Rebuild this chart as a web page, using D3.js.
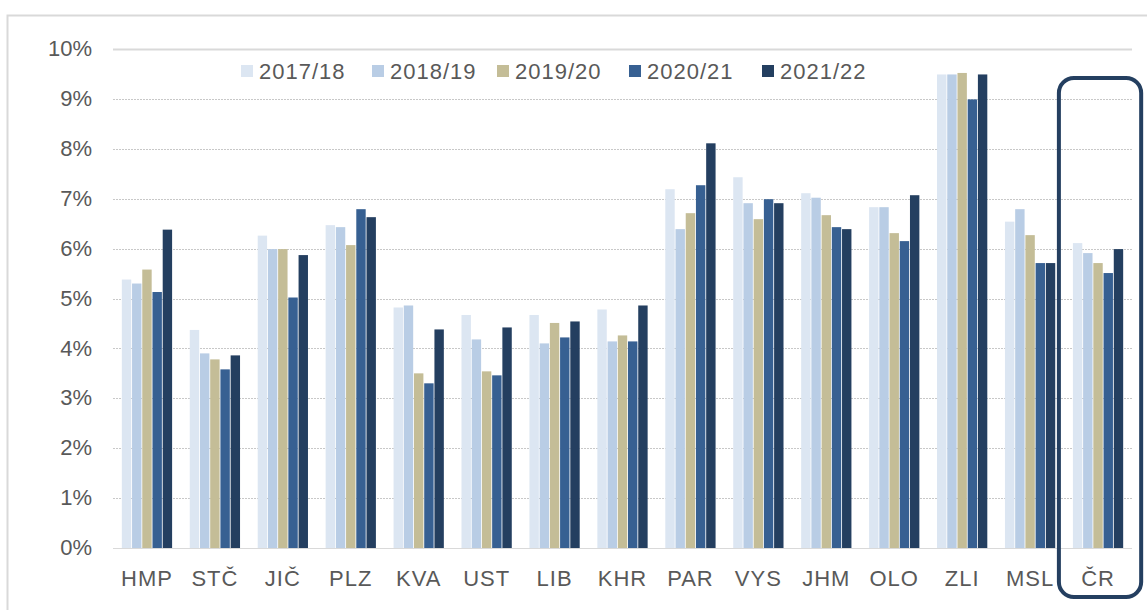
<!DOCTYPE html>
<html>
<head>
<meta charset="utf-8">
<title>Podíl podle krajů</title>
<script src="https://d3js.org/d3.v7.min.js"></script>
<style>
    body { margin: 0; background: #ffffff; font-family: 'Liberation Sans', Arial, sans-serif; }
    svg { display: block; }
</style>
</head>
<body>
<svg id="chart"></svg>
<script>
    const regions = ["HMP", "STČ", "JIČ", "PLZ", "KVA", "UST", "LIB", "KHR", "PAR", "VYS", "JHM", "OLO", "ZLI", "MSL", "ČR"];
    const years = ["2017/18", "2018/19", "2019/20", "2020/21", "2021/22"];
    const colors = ["#dce6f2", "#b9cde5", "#c4bd97", "#376092", "#243f60"];

    // values in %, one array per school year, same order as regions
    const v1718 = [5.38, 4.37, 6.26, 6.47, 4.82, 4.67, 4.67, 4.78, 7.19, 7.43, 7.11, 6.83, 9.49, 6.54, 6.11];
    const v1819 = [5.30, 3.90, 5.99, 6.43, 4.86, 4.18, 4.10, 4.14, 6.39, 6.91, 7.02, 6.83, 9.49, 6.79, 5.91];
    const v1920 = [5.58, 3.78, 5.99, 6.07, 3.50, 3.54, 4.51, 4.26, 6.71, 6.59, 6.67, 6.31, 9.52, 6.27, 5.71];
    const v2021 = [5.13, 3.58, 5.02, 6.79, 3.30, 3.46, 4.22, 4.14, 7.27, 6.99, 6.43, 6.15, 8.99, 5.71, 5.51];
    const v2122 = [6.38, 3.86, 5.87, 6.63, 4.38, 4.42, 4.54, 4.86, 8.11, 6.91, 6.39, 7.07, 9.49, 5.71, 5.99];
    const series = [v1718, v1819, v1920, v2021, v2122];
    const yTicks = [0, 1, 2, 3, 4, 5, 6, 7, 8, 9, 10];
    const highlight = "ČR";

    const width = 1147, height = 610;
    const plot = { left: 113, right: 1132, top: 49, bottom: 548 };

    const svg = d3.select("#chart").attr("width", width).attr("height", height);

    // chart frame (only top and left edges visible)
    svg.append("path")
        .attr("d", `M7.5,${height} V15.5 H${width}`)
        .attr("fill", "none")
        .attr("stroke", "#d9d9d9")
        .attr("stroke-width", 2);

    const x = d3.scaleBand().domain(regions).range([plot.left, plot.right]).paddingInner(0.26).paddingOuter(0.13);
    const xi = d3.scaleBand().domain(years).range([0, x.bandwidth()]).paddingInner(0.08);
    const y = d3.scaleLinear().domain([0, 10]).range([plot.bottom, plot.top]);

    // gridlines
    svg.append("g").selectAll("line")
        .data(yTicks)
        .enter()
        .append("line")
        .attr("x1", plot.left)
        .attr("x2", plot.right)
        .attr("y1", d => Math.round(y(d)) + 0.5)
        .attr("y2", d => Math.round(y(d)) + 0.5)
        .attr("stroke", d => d === 10 || d === 0 ? "#d9d9d9" : "#c8c8c8")
        .attr("stroke-width", d => d === 10 ? 2 : 1)
        .attr("stroke-dasharray", d => d === 10 || d === 0 ? null : "2,1");

    // y axis labels
    const yAxis = d3.axisLeft(y).tickValues(yTicks).tickFormat(d => d + "%").tickSize(0).tickPadding(0);
    svg.append("g")
        .attr("transform", "translate(92,0)")
        .call(yAxis)
        .call(g => g.select(".domain").remove())
        .selectAll("text")
        .attr("fill", "#595959")
        .attr("dy", "0.3em")
        .style("font-size", "22px")
        .style("font-family", "'Liberation Sans', Arial, sans-serif");

    // bars
    const groups = svg.append("g").selectAll("g")
        .data(regions)
        .enter()
        .append("g")
        .attr("transform", d => `translate(${x(d)},0)`);

    groups.selectAll("rect")
        .data((r, i) => years.map((yr, j) => ({ year: yr, idx: j, value: series[j][i] })))
        .enter()
        .append("rect")
        .attr("x", d => xi(d.year))
        .attr("width", xi.bandwidth())
        .attr("y", d => y(d.value))
        .attr("height", d => y(0) - y(d.value))
        .attr("fill", d => colors[d.idx]);

    // x axis labels
    const xAxis = d3.axisBottom(x).tickSize(0).tickPadding(0);
    svg.append("g")
        .attr("transform", `translate(0,${plot.bottom + 22})`)
        .call(xAxis)
        .call(g => g.select(".domain").remove())
        .selectAll("text")
        .attr("fill", "#595959")
        .attr("dy", "0.71em")
        .style("letter-spacing", "1px")
        .style("font-size", "22px")
        .style("font-family", "'Liberation Sans', Arial, sans-serif");

    // legend
    const legendX = [241, 372, 497, 629, 762];
    const legend = svg.append("g").selectAll("g")
        .data(years)
        .enter()
        .append("g")
        .attr("transform", (d, i) => `translate(${legendX[i]},71)`);

    legend.append("rect")
        .attr("x", 0)
        .attr("y", -6)
        .attr("width", 12)
        .attr("height", 12)
        .attr("fill", (d, i) => colors[i]);

    legend.append("text")
        .attr("x", 18)
        .attr("y", 0)
        .attr("dy", "0.36em")
        .attr("fill", "#595959")
        .style("letter-spacing", "1px")
        .style("font-size", "22px")
        .text(d => d);

    // highlight of the country total
    const hx = x(highlight);
    svg.append("rect")
        .attr("x", hx - 14)
        .attr("y", 78)
        .attr("width", x.bandwidth() + 32)
        .attr("height", 519)
        .attr("rx", 15)
        .attr("fill", "none")
        .attr("stroke", "#243f60")
        .attr("stroke-width", 4);
</script>
</body>
</html>
